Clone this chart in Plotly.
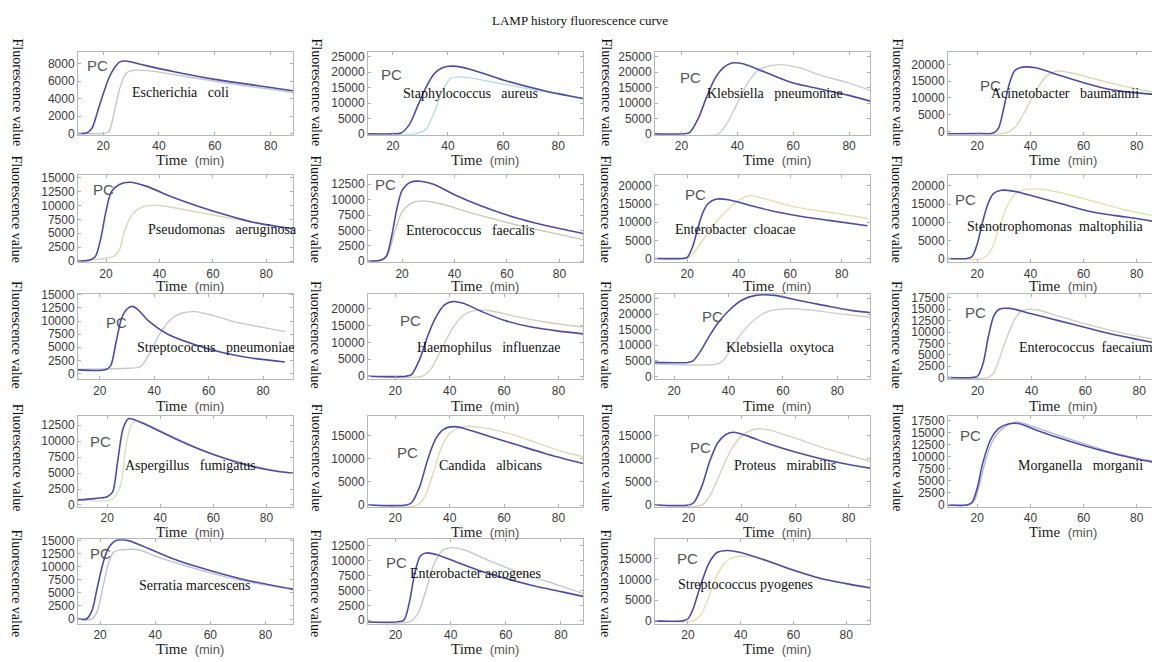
import plotly.graph_objects as go

W, H = 1160, 662
PAGE_OFFSET = 8  # default body margin of the page

SPECIES = [
    "Escherichia   coli", "Staphylococcus   aureus", "Klebsiella   pneumoniae", "Acinetobacter   baumannii",
    "Pseudomonas   aeruginosa", "Enterococcus   faecalis", "Enterobacter  cloacae", "Stenotrophomonas  maltophilia",
    "Streptococcus   pneumoniae", "Haemophilus   influenzae", "Klebsiella  oxytoca", "Enterococcus  faecaium",
    "Aspergillus   fumigatus", "Candida   albicans", "Proteus   mirabilis", "Morganella   morganii",
    "Serratia marcescens", "Enterobacter aerogenes", "Streptococcus pyogenes",
]

PC_TIME = [
    [11, 14, 16, 18, 20, 22, 24, 26, 28, 35, 45, 60, 75, 88],
    [11, 20, 23, 26, 29, 32, 35, 38, 42, 48, 60, 75, 89],
    [10.5, 21, 23, 26, 29, 32, 35, 38, 42, 50, 60, 70, 80, 88],
    [9, 20, 26, 28, 30, 32, 34, 36, 42, 50, 60, 70, 80, 88],
    [9.5, 14, 16, 18, 20, 22, 25, 29, 35, 45, 55, 65, 75, 90],
    [7, 12, 14, 16, 18, 20, 23, 27, 32, 40, 50, 60, 70, 80, 89],
    [7.5, 18, 20, 22, 24, 26, 28, 31, 36, 45, 55, 65, 75, 90],
    [9, 16, 18, 20, 22, 24, 26, 29, 34, 42, 52, 62, 72, 80, 88],
    [12, 22, 24, 26, 28, 30, 32, 34, 38, 45, 55, 65, 75, 88],
    [10, 24, 26, 29, 32, 35, 38, 41, 45, 52, 60, 70, 80, 89],
    [13, 25, 27, 30, 33, 36, 40, 45, 50, 57, 65, 75, 85, 92],
    [9, 18, 20, 22, 24, 26, 28, 32, 40, 50, 60, 70, 80, 87],
    [9, 15, 20, 22, 24, 26, 28, 30, 35, 45, 55, 65, 75, 85, 90],
    [10, 24, 26, 29, 32, 35, 38, 42, 46, 55, 65, 75, 89],
    [7.5, 20, 22, 25, 28, 31, 34, 37, 42, 50, 60, 70, 80, 88],
    [9, 16, 18, 20, 22, 25, 28, 32, 36, 42, 50, 60, 70, 80, 88],
    [12, 15, 17, 19, 21, 23, 26, 30, 35, 45, 55, 65, 75, 90],
    [10, 20, 23, 25, 27, 29, 31, 35, 42, 50, 60, 70, 80, 88],
    [7.5, 18, 20, 22, 25, 28, 31, 35, 40, 50, 60, 70, 80, 89],
]
PC_FLUOR = [
    [0, 50, 600, 2500, 4500, 6300, 7500, 8200, 8300, 7800, 7100, 6200, 5500, 4900],
    [0, 0, 300, 3000, 9000, 15000, 19500, 21500, 22000, 21000, 17500, 14000, 11500],
    [0, 0, 500, 5000, 12000, 18000, 21500, 23000, 22800, 20000, 16500, 14500, 12500, 10500],
    [-700, -600, -500, 1000, 7000, 14000, 18000, 19000, 19000, 17000, 14500, 12500, 11500, 11000],
    [0, 200, 800, 4000, 9000, 12500, 13800, 14200, 13500, 11500, 9800, 8300, 7000, 5800],
    [0, 200, 800, 4000, 8500, 11500, 12800, 13000, 12500, 10800, 9000, 7500, 6300, 5300, 4500],
    [0, 0, 300, 3000, 8000, 12500, 15000, 16300, 16200, 14500, 12800, 11500, 10500, 9000],
    [0, 0, 500, 4000, 10000, 15000, 17800, 18800, 18500, 17000, 15000, 13000, 11800, 11000, 10000],
    [700, 700, 1500, 6000, 10500, 12300, 12800, 12200, 10000, 7500, 5500, 4000, 3000, 2200],
    [0, 0, 500, 5000, 12000, 17500, 21000, 22000, 21500, 19000, 16500, 14500, 13300, 12500],
    [4500, 4500, 5000, 8500, 13000, 17000, 21000, 24500, 26000, 26000, 24500, 22800, 21200, 20500],
    [0, 0, 300, 3000, 9000, 13500, 15000, 15200, 14000, 12500, 11000, 9500, 8300, 7500],
    [800, 1000, 1300, 2000, 7000, 12000, 13500, 13400, 12500, 10500, 8700, 7200, 6000, 5200, 5000],
    [0, 0, 500, 4000, 10000, 14500, 16500, 17000, 16500, 14800, 13000, 11200, 9000],
    [0, 0, 500, 4000, 9500, 13500, 15300, 15800, 15000, 13300, 11500, 10000, 8800, 8000],
    [0, 0, 500, 3500, 8500, 13500, 15800, 16800, 16800, 15500, 14000, 12300, 10800, 9500, 8700],
    [0, 0, 1500, 6000, 10500, 13500, 15000, 15000, 14000, 11800, 10000, 8500, 7200, 5700],
    [-300, -300, 0, 3000, 8000, 10800, 11300, 11000, 9800, 8400, 7000, 5800, 4800, 4000],
    [0, 0, 500, 3000, 9000, 14000, 16500, 17000, 16500, 14500, 12200, 10300, 9000, 8000],
]

SAMPLE_TIME = [
    [11, 20, 22, 24, 26, 28, 30, 36, 50, 70, 88],
    [11, 28, 32, 35, 38, 41, 45, 55, 70, 89],
    [10.5, 33, 36, 40, 44, 48, 55, 62, 70, 80, 88],
    [9, 30, 34, 38, 42, 46, 50, 55, 65, 75, 88],
    [9.5, 20, 23, 25, 27, 30, 34, 40, 50, 60, 75, 90],
    [7, 13, 15, 17, 20, 24, 28, 35, 45, 60, 75, 89],
    [7.5, 20, 22, 26, 30, 35, 40, 44, 50, 60, 70, 80, 90],
    [9, 22, 25, 28, 31, 34, 38, 45, 55, 65, 75, 88],
    [12, 30, 35, 38, 42, 46, 50, 55, 62, 70, 80, 88],
    [10, 30, 33, 37, 41, 45, 50, 55, 65, 75, 89],
    [13, 36, 38, 41, 45, 50, 55, 62, 70, 80, 92],
    [9, 24, 26, 28, 31, 34, 37, 42, 50, 60, 70, 80, 87],
    [9, 22, 25, 27, 29, 31, 40, 50, 60, 70, 80, 90],
    [10, 28, 31, 34, 37, 40, 45, 52, 62, 72, 82, 89],
    [7.5, 25, 28, 32, 36, 40, 45, 50, 60, 70, 80, 88],
    [9, 17, 19, 21, 23, 26, 30, 35, 42, 50, 60, 70, 80, 88],
    [12, 17, 19, 21, 23, 25, 28, 34, 40, 50, 60, 70, 80, 90],
    [10, 25, 28, 31, 34, 37, 40, 45, 55, 65, 75, 88],
    [7.5, 22, 25, 28, 31, 34, 38, 44, 52, 62, 72, 82, 89],
]
SAMPLE_FLUOR = [
    [0, 0, 200, 2500, 5200, 6800, 7200, 7200, 6500, 5500, 4700],
    [0, 0, 1500, 7000, 14000, 18000, 18500, 17000, 14500, 11500],
    [0, 0, 3000, 10000, 17000, 21000, 22500, 21500, 19000, 16500, 14000],
    [-700, -600, 1000, 6000, 12000, 16500, 18000, 17500, 15500, 13500, 11500],
    [0, 500, 900, 2000, 5500, 8500, 9800, 10000, 9200, 8300, 7000, 5800],
    [0, 300, 1500, 4500, 8000, 9500, 9800, 9300, 8000, 6300, 4800, 3500],
    [0, 0, 1000, 5000, 9000, 13000, 16000, 17300, 16500, 14500, 13200, 12200, 11000],
    [0, 0, 2000, 8000, 14000, 17500, 19000, 19000, 17500, 15500, 13500, 11500],
    [800, 1000, 1300, 3500, 7500, 10300, 11500, 11800, 11000, 9800, 8800, 8000],
    [0, 0, 2000, 8000, 14000, 18000, 19500, 19300, 17500, 16000, 14500],
    [4000, 4000, 5000, 9000, 14000, 18500, 21000, 21700, 21300, 20200, 19000],
    [0, 0, 1000, 4000, 9000, 13000, 14800, 14900, 13500, 11800, 10300, 9000, 8300],
    [800, 900, 3000, 9000, 12500, 13200, 11700, 9700, 8000, 6700, 5700, 5000],
    [0, 0, 2000, 7000, 12500, 15500, 17000, 16800, 15500, 13500, 11500, 10500],
    [0, 0, 2000, 7000, 12000, 15000, 16500, 16300, 14500, 12500, 10800, 9500],
    [0, 0, 1000, 4500, 9000, 13500, 16000, 17200, 16000, 14500, 12700, 11000, 9700, 8900],
    [0, 0, 1500, 6000, 10500, 12800, 13200, 13200, 12000, 10300, 8800, 7500, 6500, 5600],
    [-300, -300, 1000, 5000, 9500, 11700, 12200, 11800, 9800, 8000, 6500, 4500],
    [0, 0, 1500, 6000, 11000, 14000, 15500, 15500, 14000, 12000, 10000, 8700, 7800],
]

Y_TICKS = [
    [0, 2000, 4000, 6000, 8000],
    [0, 5000, 10000, 15000, 20000, 25000],
    [0, 5000, 10000, 15000, 20000, 25000],
    [0, 5000, 10000, 15000, 20000],
    [0, 2500, 5000, 7500, 10000, 12500, 15000],
    [0, 2500, 5000, 7500, 10000, 12500],
    [0, 5000, 10000, 15000, 20000],
    [0, 5000, 10000, 15000, 20000],
    [0, 2500, 5000, 7500, 10000, 12500, 15000],
    [0, 5000, 10000, 15000, 20000],
    [0, 5000, 10000, 15000, 20000, 25000],
    [0, 2500, 5000, 7500, 10000, 12500, 15000, 17500],
    [0, 2500, 5000, 7500, 10000, 12500],
    [0, 5000, 10000, 15000],
    [0, 5000, 10000, 15000],
    [0, 2500, 5000, 7500, 10000, 12500, 15000, 17500],
    [0, 2500, 5000, 7500, 10000, 12500, 15000],
    [0, 2500, 5000, 7500, 10000, 12500],
    [0, 5000, 10000, 15000],
]
X_TICKS = [20, 40, 60, 80]

# axis ranges (styling)
Y_RANGE = [
    [-150, 9300], [-300, 26500], [-300, 26500], [-1000, 23600],
    [-250, 15500], [-200, 14000], [-1100, 23000], [-1100, 23000],
    [-1100, 15200], [-900, 24300], [-900, 26500], [-400, 18400],
    [-300, 14000], [-400, 19400], [-400, 19400], [-400, 18500],
    [-900, 15200], [-600, 13600], [-700, 19700],
]
X_RANGE = [
    [11, 88], [11, 89], [10.5, 87.5], [9, 88],
    [9.5, 90], [7, 89], [7.5, 91], [9, 88],
    [12, 91], [10, 89], [13, 92], [9, 87],
    [9, 90], [10, 89], [7.5, 88], [9, 88],
    [12, 90], [10, 88], [7.5, 89],
]
SAMPLE_COLORS = [
    "#c4c4d0", "#b4e0e0", "#cccccc", "#d8d8b0",
    "#d8d8b8", "#c6c8b8", "#e2dfb0", "#e3e3b0",
    "#c8c8c8", "#cfcfc0", "#d0d0d0", "#cfcfc2",
    "#dcdcc8", "#dcdcb8", "#d8d0c0", "#b4b4dc",
    "#c0c0dc", "#c8c8c8", "#e0e0b0",
]
PC_COLOR = "#4c4ca8"

COL_X = [(78, 293), (368, 583), (655, 870), (948, 1158)]
ROW_Y = [(47, 131), (172, 261), (293, 380), (417, 510), (543, 629)]

# annotation positions (pixels in the screenshot)
PC_POS = [(97, 60), (391, 70), (690, 73), (990, 81),
          (103, 187), (385, 182), (695, 192), (965, 197),
          (116, 322), (410, 320), (712, 316), (975, 312),
          (100, 443), (407, 455), (700, 449), (970, 437),
          (100, 557), (396, 567), (687, 563)]
NAME_POS = [(180, 88), (470, 89), (775, 89), (1065, 89),
            (222, 227), (470, 228), (735, 227), (1055, 224),
            (215, 348), (488, 348), (780, 348), (1086, 348),
            (190, 468), (490, 468), (785, 468), (1080, 468),
            (195, 590), (475, 578), (745, 589)]
YLAB_X = [17, 316, 606, 897]
YLAB_Y = [88, 207, 335, 460, 588]
TIME_X = [190, 485, 777, 1063]
TIME_Y = [157, 285, 407, 536, 655]


def px(x):
    return (x - PAGE_OFFSET) / W


def py(y):
    return 1 - (y - PAGE_OFFSET) / H


def label(x, y, text, family, size, color, angle=0):
    return dict(x=px(x), y=py(y), xref="paper", yref="paper", text=text,
                showarrow=False, xanchor="center", yanchor="middle", textangle=angle,
                font=dict(family=family, size=size, color=color))


SANS = "Liberation Sans, Arial, sans-serif"
SERIF = "Liberation Serif, Times New Roman, serif"

fig = go.Figure()
annotations = []
layout = {}

for i in range(len(SPECIES)):
    r, c = divmod(i, 4)
    n = "" if i == 0 else str(i + 1)
    xa, ya = "x" + n, "y" + n
    fig.add_trace(go.Scatter(
        x=SAMPLE_TIME[i], y=SAMPLE_FLUOR[i], xaxis=xa, yaxis=ya, mode="lines",
        line=dict(color=SAMPLE_COLORS[i], width=1.4, shape="spline", smoothing=0.8),
        hoverinfo="skip", showlegend=False))
    fig.add_trace(go.Scatter(
        x=PC_TIME[i], y=PC_FLUOR[i], xaxis=xa, yaxis=ya, mode="lines",
        line=dict(color=PC_COLOR, width=1.6, shape="spline", smoothing=0.8),
        hoverinfo="skip", showlegend=False))
    x0, x1 = COL_X[c]
    y0, y1 = ROW_Y[r]
    common = dict(showline=True, mirror="ticks", linecolor="#b8b8b8", linewidth=1,
                  ticks="inside", ticklen=3, tickcolor="#b0b0b0", showgrid=False,
                  zeroline=False, tickfont=dict(family=SANS, size=12, color="#3a3a3a"))
    layout["xaxis" + n] = dict(domain=[px(x0), px(x1)], anchor=ya, range=X_RANGE[i],
                               tickvals=X_TICKS, **common)
    layout["yaxis" + n] = dict(domain=[py(y1), py(y0)], anchor=xa, range=Y_RANGE[i],
                               tickvals=Y_TICKS[i], ticktext=[str(v) for v in Y_TICKS[i]],
                               **common)
    annotations.append(label(PC_POS[i][0], PC_POS[i][1], "PC", SANS, 15, "#555555"))
    annotations.append(label(NAME_POS[i][0], NAME_POS[i][1], SPECIES[i].replace(" ", "\u00a0"),
                             SERIF, 14, "#111111"))
    annotations.append(label(YLAB_X[c], YLAB_Y[r], "Fluorescence value", SERIF, 14, "#111111", 90))
    annotations.append(label(TIME_X[c], TIME_Y[r],
                             "Time\u00a0\u00a0<span style=\"font-family:Liberation Sans;font-size:13px;color:#555555\">(min)</span>",
                             SERIF, 15, "#222222"))

annotations.append(label(580, 15, "LAMP history fluorescence curve", SERIF, 13, "#111111"))

fig.update_layout(width=W, height=H, margin=dict(l=0, r=0, t=0, b=0),
                  paper_bgcolor="white", plot_bgcolor="white", showlegend=False,
                  hovermode=False, annotations=annotations, **layout)

fig.write_html("out.html")
